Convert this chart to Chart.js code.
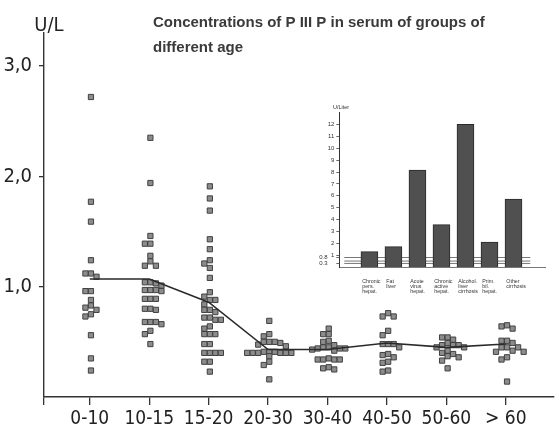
<!DOCTYPE html>
<html>
<head>
<meta charset="utf-8">
<script src="https://cdn.jsdelivr.net/npm/chart.js@4"></script>
<style>
html, body { margin: 0; padding: 0; background: #fff; }
#wrap { position: relative; width: 559px; height: 432px; }
#main { position: absolute; left: 0; top: 0; }
#inset { position: absolute; left: 300px; top: 100px; }
</style>
</head>
<body>
<div id="wrap">
  <canvas id="main" width="559" height="432"></canvas>
  <canvas id="inset" width="255" height="200"></canvas>
</div>
<script>
// age groups and P III P values (U/L)
const ageGroups = ['0-10', '10-15', '15-20', '20-30', '30-40', '40-50', '50-60', '> 60'];
const age0_10 = [2.72, 1.77, 1.59, 1.24, 1.12, 1.12, 1.09, 0.96, 0.96, 0.88, 0.83, 0.81, 0.79, 0.75, 0.73, 0.56, 0.35, 0.24];
const age10_15 = [2.35, 1.94, 1.46, 1.39, 1.39, 1.28, 1.23, 1.19, 1.19, 1.04, 1.04, 1.03, 1.01, 0.97, 0.97, 0.97, 0.96,
  0.89, 0.89, 0.89, 0.80, 0.80, 0.79, 0.68, 0.68, 0.68, 0.66, 0.60, 0.57, 0.48];
const age15_20 = [1.91, 1.80, 1.69, 1.43, 1.34, 1.24, 1.21, 1.17, 1.08, 0.95, 0.91, 0.88, 0.88, 0.84, 0.79, 0.79, 0.77,
  0.72, 0.72, 0.70, 0.70, 0.64, 0.62, 0.57, 0.57, 0.57, 0.48, 0.48, 0.40, 0.40, 0.40, 0.40, 0.32, 0.32, 0.23];
const age20_30 = [0.69, 0.57, 0.55, 0.50, 0.50, 0.50, 0.49, 0.475, 0.46, 0.41, 0.41, 0.41, 0.40, 0.40, 0.40, 0.40,
  0.40, 0.40, 0.37, 0.32, 0.29, 0.16];
const age30_40 = [0.62, 0.57, 0.57, 0.51, 0.50, 0.47, 0.45, 0.45, 0.44, 0.44, 0.44, 0.43, 0.42, 0.35, 0.34, 0.34,
  0.34, 0.34, 0.27, 0.26, 0.25];
const age40_50 = [0.76, 0.73, 0.73, 0.60, 0.56, 0.48, 0.48, 0.48, 0.45, 0.39, 0.38, 0.36, 0.32, 0.31, 0.24, 0.23];
const age50_60 = [0.54, 0.54, 0.52, 0.49, 0.47, 0.47, 0.47, 0.45, 0.45, 0.42, 0.40, 0.39, 0.37, 0.36, 0.33, 0.26];
const age60plus = [0.65, 0.64, 0.62, 0.51, 0.51, 0.49, 0.45, 0.45, 0.45, 0.42, 0.41, 0.41, 0.36, 0.34, 0.14];
const groupMeans = [1.07, 1.07, 0.86, 0.43, 0.43, 0.49, 0.45, 0.48];
const yTicks = [1, 2, 3];

// inset: liver diseases
const diseases = [['Chronic', 'pers.', 'hepat.'], ['Fat', 'liver'], ['Acute', 'virus', 'hepat.'],
  ['Chronic', 'active', 'hepat.'], ['Alcohol.', 'liver', 'cirrhosis'], ['Prim.', 'bil.', 'hepat.'], ['Other', 'cirrhosis']];
const diseaseValues = [1.3, 1.72, 8.17, 3.57, 12.03, 2.09, 5.73];
const insetTicks = [0.3, 0.8, 1, 2, 3, 4, 5, 6, 7, 8, 9, 10, 11, 12];
const normalLines = [0.8, 0.5, 0.3];

const titleLines = ['Concentrations of P III P in serum of groups of', 'different age'];
const plotFont = "'Liberation Sans Narrow', 'DejaVu Sans Condensed', 'Liberation Sans', sans-serif";

// spread equal values side by side like the original dot plot
function swarm(values, gi) {
  const placed = [];
  const order = [0, -1, 1, 2, -2, 3, -3, 4, -4];
  values.forEach(v => {
    let col = 0;
    for (const c of order) {
      if (!placed.some(p => p.c === c && Math.abs(p.v - v) < 0.045)) { col = c; break; }
    }
    placed.push({ c: col, v: v });
  });
  return placed.map(p => ({ x: gi + 0.02 + p.c * 0.093, y: p.v }));
}

const groups = [age0_10, age10_15, age15_20, age20_30, age30_40, age40_50, age50_60, age60plus];
let points = [];
groups.forEach((g, i) => { points = points.concat(swarm(g, i)); });

const textPlugin = {
  id: 'texts',
  afterDraw(chart) {
    const c = chart.ctx;
    c.save();
    c.fillStyle = '#3a3a3a';
    c.font = 'bold 15px "Liberation Sans", Arial, sans-serif';
    titleLines.forEach((t, i) => c.fillText(t, 153, 26.5 + 25 * i));
    c.fillStyle = '#222';
    c.font = '20px ' + plotFont;
    c.textAlign = 'center';
    c.fillText('U/L', 49, 31);
    c.restore();
  }
};

new Chart(document.getElementById('main'), {
  type: 'scatter',
  data: {
    datasets: [{
      type: 'line',
      data: groupMeans.map((v, i) => ({ x: i, y: v })),
      borderColor: '#2a2a2a',
      borderWidth: 1.6,
      pointRadius: 0,
      fill: false
    }, {
      data: points,
      pointStyle: 'rect',
      pointRadius: 3.7,
      backgroundColor: '#8c8c8c',
      borderColor: '#404040',
      borderWidth: 1
    }]
  },
  options: {
    responsive: false,
    animation: false,
    layout: { padding: { top: 33, left: 0, right: 0, bottom: 0 } },
    plugins: { legend: { display: false }, tooltip: { enabled: false } },
    scales: {
      x: {
        type: 'linear',
        min: -0.77,
        max: 7.81,
        afterBuildTicks: s => { s.ticks = [{ value: s.min }].concat(ageGroups.map((_, i) => ({ value: i }))); },
        afterFit: s => { s.height = 35; },
        grid: { drawOnChartArea: false, tickLength: 8, color: '#333', lineWidth: 1.3 },
        border: { color: '#333', width: 1.6 },
        ticks: {
          autoSkip: false, maxRotation: 0, padding: 3, color: '#222',
          font: { family: plotFont, size: 19 },
          callback: v => ageGroups[v] || ''
        }
      },
      y: {
        min: 0,
        max: 3.3,
        afterBuildTicks: s => { s.ticks = yTicks.map(v => ({ value: v })); },
        afterFit: s => { s.width = 44; },
        grid: { drawOnChartArea: false, tickLength: 5, color: '#333', lineWidth: 1.3 },
        border: { color: '#333', width: 1.4 },
        ticks: {
          padding: 7, color: '#222',
          font: { family: plotFont, size: 20 },
          callback: v => v.toFixed(1).replace('.', ',')
        }
      }
    }
  },
  plugins: [textPlugin]
});

new Chart(document.getElementById('inset'), {
  type: 'bar',
  data: {
    datasets: normalLines.map(v => ({
      type: 'line',
      data: [{ x: -1.05, y: v }, { x: 6.7, y: v }],
      borderColor: '#555',
      borderWidth: 0.8,
      pointRadius: 0,
      clip: false,
      order: 2
    })).concat([{
      type: 'bar',
      data: diseaseValues.map((v, i) => ({ x: i, y: v })),
      backgroundColor: '#505050',
      borderColor: '#2a2a2a',
      borderWidth: 1,
      barThickness: 17,
      order: 1
    }])
  },
  options: {
    responsive: false,
    animation: false,
    layout: { padding: { top: 12.7, right: 10, left: 0, bottom: 0 } },
    plugins: { legend: { display: false }, tooltip: { enabled: false } },
    scales: {
      x: {
        type: 'linear',
        min: -0.643,
        max: 6.7,
        afterBuildTicks: s => { s.ticks = diseases.map((_, i) => ({ value: i - 0.3 })); },
        afterFit: s => { s.height = 33; },
        grid: { display: false },
        border: { color: '#555', width: 0.8 },
        ticks: {
          align: 'start', autoSkip: false, maxRotation: 0, padding: 4, color: '#333',
          font: { family: 'Liberation Sans, Arial, sans-serif', size: 5.3, lineHeight: 0.95 },
          callback: (v, i) => diseases[i]
        }
      },
      y: {
        min: 0,
        max: 13,
        afterBuildTicks: s => { s.ticks = insetTicks.map(v => ({ value: v })); },
        afterFit: s => { s.width = 39.3; },
        grid: { drawOnChartArea: false, tickLength: 3, color: '#444', lineWidth: 0.8 },
        border: { color: '#333', width: 1 },
        ticks: {
          autoSkip: false, padding: 2, color: '#333',
          font: { family: 'Liberation Sans, Arial, sans-serif', size: 6 },
          callback: v => v < 1 ? v.toFixed(1) + '    ' : String(v)
        }
      }
    }
  },
  plugins: [{
    id: 'unit',
    afterDraw(chart) {
      const c = chart.ctx;
      c.save();
      c.fillStyle = '#333';
      c.font = '5.5px "Liberation Sans", Arial, sans-serif';
      c.fillText('U/Liter', 33, 9);
      c.restore();
    }
  }]
});
</script>
</body>
</html>
